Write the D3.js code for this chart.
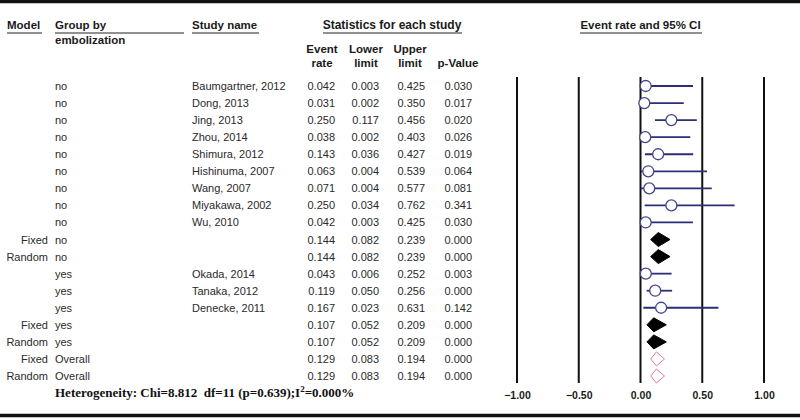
<!DOCTYPE html>
<html>
<head>
<meta charset="utf-8">
<script src="https://cdn.jsdelivr.net/npm/d3@7"></script>
<style>
  body { margin: 0; background: #fff; }
  svg { display: block; }
  text { font-family: "Liberation Sans", Arial, sans-serif; font-size: 11px; fill: #2a2a2a; }
  .hdr { font-weight: bold; fill: #1a1a1a; font-size: 11.5px; }
</style>
</head>
<body>
<div id="chart"></div>
<script>
// rows of the forest plot
var models = ["", "", "", "", "", "", "", "", "", "Fixed", "Random", "", "", "", "Fixed", "Random", "Fixed", "Random"];
var groups = ["no", "no", "no", "no", "no", "no", "no", "no", "no", "no", "no", "yes", "yes", "yes", "yes", "yes", "Overall", "Overall"];
var studies = ["Baumgartner, 2012", "Dong, 2013", "Jing, 2013", "Zhou, 2014", "Shimura, 2012", "Hishinuma, 2007",
  "Wang, 2007", "Miyakawa, 2002", "Wu, 2010", "", "", "Okada, 2014", "Tanaka, 2012", "Denecke, 2011", "", "", "", ""];
var rates  = [0.042, 0.031, 0.250, 0.038, 0.143, 0.063, 0.071, 0.250, 0.042, 0.144, 0.144, 0.043, 0.119, 0.167, 0.107, 0.107, 0.129, 0.129];
var lowers = [0.003, 0.002, 0.117, 0.002, 0.036, 0.004, 0.004, 0.034, 0.003, 0.082, 0.082, 0.006, 0.050, 0.023, 0.052, 0.052, 0.083, 0.083];
var uppers = [0.425, 0.350, 0.456, 0.403, 0.427, 0.539, 0.577, 0.762, 0.425, 0.239, 0.239, 0.252, 0.256, 0.631, 0.209, 0.209, 0.194, 0.194];
var pvals  = [0.030, 0.017, 0.020, 0.026, 0.019, 0.064, 0.081, 0.341, 0.030, 0.000, 0.000, 0.003, 0.000, 0.142, 0.000, 0.000, 0.000, 0.000];
var kinds  = ["study", "study", "study", "study", "study", "study", "study", "study", "study", "pooled", "pooled",
  "study", "study", "study", "pooled", "pooled", "overall", "overall"];
var ticks = [-1, -0.5, 0, 0.5, 1];

var width = 800, height = 420;
var svg = d3.select("#chart").append("svg")
    .attr("width", width)
    .attr("height", height);

var rows = d3.range(rates.length);
var y = d3.scalePoint().domain(rows).range([86, 376]);
var x = d3.scaleLinear().domain([-1, 1]).range([517, 764]);
var fmt = d3.format(".3f");

// frame lines
svg.append("line").attr("x1", 0).attr("x2", width).attr("y1", 1.5).attr("y2", 1.5)
    .attr("stroke", "#111").attr("stroke-width", 3.5);
svg.append("line").attr("x1", 0).attr("x2", width).attr("y1", 415.5).attr("y2", 415.5)
    .attr("stroke", "#111").attr("stroke-width", 3.5);

// headers
function header(txt, xx, yy, anchor) {
  return svg.append("text").attr("class", "hdr").attr("x", xx).attr("y", yy)
      .attr("text-anchor", anchor || "start").text(txt);
}
function rule(x1, x2, yy) {
  svg.append("line").attr("x1", x1).attr("x2", x2).attr("y1", yy).attr("y2", yy)
      .attr("stroke", "#222").attr("stroke-width", 1);
}
header("Model", 7, 29); rule(7, 42, 33);
header("Group by", 55, 29); rule(55, 184, 33);
header("embolization", 55, 44);
header("Study name", 192, 29); rule(192, 259, 33);
header("Statistics for each study", 392, 29, "middle").style("font-size", "12px"); rule(323, 462, 33);
header("Event rate and 95% CI", x(0), 29, "middle"); rule(580, 702, 33);

var colX = [335, 379, 425, 472];
header("Event", 322, 53, "middle"); header("rate", 322, 67, "middle");
header("Lower", 366, 53, "middle"); header("limit", 366, 67, "middle");
header("Upper", 410, 53, "middle"); header("limit", 410, 67, "middle");
header("p-Value", 458, 67, "middle");

// table body
var row = svg.selectAll(".row").data(rows).enter().append("g")
    .attr("class", "row")
    .attr("transform", function(i) { return "translate(0," + (y(i) + 4) + ")"; });

row.append("text").attr("x", 48).attr("text-anchor", "end").text(function(i) { return models[i]; });
row.append("text").attr("x", 55).text(function(i) { return groups[i]; });
row.append("text").attr("x", 192).text(function(i) { return studies[i]; });
[rates, lowers, uppers, pvals].forEach(function(arr, c) {
  row.append("text").attr("x", colX[c]).attr("text-anchor", "end")
      .text(function(i) { return fmt(arr[i]); });
});

// plot grid lines
svg.selectAll(".grid").data(ticks).enter().append("line")
    .attr("x1", function(d) { return x(d); }).attr("x2", function(d) { return x(d); })
    .attr("y1", 77).attr("y2", 383)
    .attr("stroke", "#111").attr("stroke-width", 2);

var axis = d3.axisBottom(x).tickValues(ticks).tickSize(0).tickFormat(d3.format(".2f"));
var ax = svg.append("g").attr("transform", "translate(0,389)").call(axis);
ax.select(".domain").remove();
ax.selectAll("text").attr("class", "hdr").style("font-size", "10.5px");

// study estimates
var st = rows.filter(function(i) { return kinds[i] === "study"; });
svg.selectAll(".ci").data(st).enter().append("line")
    .attr("x1", function(i) { return x(lowers[i]); })
    .attr("x2", function(i) { return x(uppers[i]); })
    .attr("y1", function(i) { return y(i); }).attr("y2", function(i) { return y(i); })
    .attr("stroke", "#2d2d78").attr("stroke-width", 1.8);
svg.selectAll(".pt").data(st).enter().append("circle")
    .attr("cx", function(i) { return x(rates[i]); })
    .attr("cy", function(i) { return y(i); })
    .attr("r", 5.5)
    .attr("fill", "#fff").attr("stroke", "#45458f").attr("stroke-width", 1.3);

// pooled diamonds
var pooled = rows.filter(function(i) { return kinds[i] !== "study"; });
svg.selectAll(".dia").data(pooled).enter().append("path")
    .attr("d", function(i) {
      var yy = y(i), h = 7;
      return "M" + x(lowers[i]) + "," + yy + "L" + x(rates[i]) + "," + (yy - h) +
        "L" + x(uppers[i]) + "," + yy + "L" + x(rates[i]) + "," + (yy + h) + "Z";
    })
    .attr("fill", function(i) { return kinds[i] === "overall" ? "#fff" : "#000"; })
    .attr("stroke", function(i) { return kinds[i] === "overall" ? "#e07a98" : "#000"; })
    .attr("stroke-width", 1);

// heterogeneity note
var het = svg.append("text").attr("x", 55).attr("y", 397)
    .style("font-family", "'Liberation Serif', 'Times New Roman', serif")
    .style("font-size", "13px").style("font-weight", "bold").style("fill", "#111")
    .style("white-space", "pre");
het.append("tspan").text("Heterogeneity: Chi=8.812  df=11 (p=0.639);I");
het.append("tspan").attr("dy", -5).style("font-size", "9px").text("2");
het.append("tspan").attr("dy", 5).text("=0.000%");
</script>
</body>
</html>
